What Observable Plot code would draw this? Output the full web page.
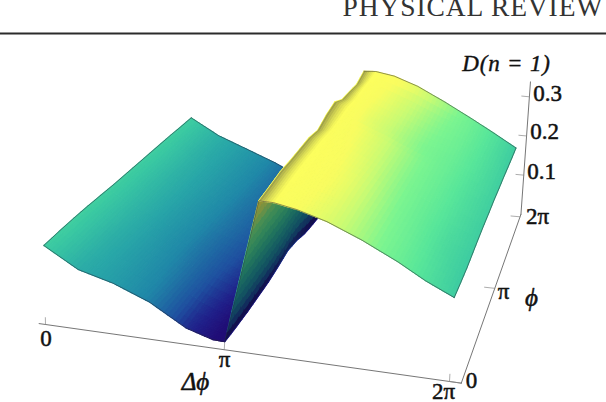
<!DOCTYPE html>
<html><head><meta charset="utf-8">
<style>html,body{margin:0;padding:0;background:#fff;overflow:hidden}svg{display:block}
.wide text{letter-spacing:.8px}.head text{letter-spacing:.9px}</style>
<script src="https://cdn.jsdelivr.net/npm/d3@7"></script>
<script src="https://cdn.jsdelivr.net/npm/@observablehq/plot@0.6"></script>
</head><body><div id="chart"></div>
<script>
// Δφ and φ grid, as fractions of 2π
const dphi = [0,.1,.2,.3,.4,.47,.5,.56,.595,.65,.72,.8,.88,.94,1];
const phi  = [0,1,2,3,4,5,6,7,8,9,10,11,12].map(k=>k/12);
// D(n=1), one row per φ, one column per Δφ
const D0  = [.173,.130,.110,.080,.035,.018,.017,.325,.325,.316,.298,.268,.232,.200,.173];
const D1  = [.175,.132,.108,.079,.037,.019,.016,.328,.327,.318,.300,.266,.230,.199,.171];
const D2  = [.176,.133,.106,.077,.041,.021,.016,.332,.330,.322,.303,.264,.228,.196,.170];
const D3  = [.176,.135,.105,.075,.045,.025,.018,.330,.331,.323,.302,.262,.226,.195,.172];
const D4  = [.175,.136,.104,.074,.048,.028,.020,.330,.330,.322,.298,.260,.226,.197,.174];
const D5  = [.174,.137,.105,.075,.051,.032,.026,.330,.330,.320,.295,.258,.227,.199,.175];
const D6  = [.174,.137,.106,.077,.054,.036,.034,.322,.326,.316,.292,.258,.228,.200,.175];
const D7  = [.174,.137,.107,.078,.056,.034,.030,.335,.328,.314,.290,.258,.229,.201,.176];
const D8  = [.174,.136,.108,.079,.057,.032,.020,.342,.332,.306,.282,.252,.230,.203,.175];
const D9  = [.174,.136,.108,.080,.057,.030,.016,.325,.328,.308,.284,.254,.232,.204,.175];
const D10 = [.174,.135,.108,.080,.056,.028,.014,.322,.330,.312,.288,.258,.234,.205,.174];
const D11 = [.173,.135,.108,.080,.052,.024,.013,.318,.330,.314,.292,.262,.235,.205,.173];
const D12 = [.173,.135,.108,.080,.045,.018,.012,.330,.332,.325,.305,.272,.235,.205,.173];
const surface = [D0,D1,D2,D3,D4,D5,D6,D7,D8,D9,D10,D11,D12];

const colorD = [.012,.03,.05,.085,.12,.165,.21,.25,.285,.315,.34];
const colorR = ["#22066e","#20208a","#1f50a0","#2088a8","#28a5a8","#3ac8a2","#58e69a","#7cf590","#c8fb74","#f8fc60","#ffff5c"];

const zTicks = [.1,.2,.3], zLabels = ["0.1","0.2","0.3"];

// projective camera of the 3D box
function homography(q){
  const [[x0,y0],[x1,y1],[x2,y2],[x3,y3]] = q;
  const dx1=x1-x2,dx2=x3-x2,sx=x0-x1+x2-x3,dy1=y1-y2,dy2=y3-y2,sy=y0-y1+y2-y3;
  const det=dx1*dy2-dx2*dy1,g=(sx*dy2-dx2*sy)/det,h=(dx1*sy-sx*dy1)/det;
  const a=x1-x0+g*x1,b=x3-x0+h*x3,d=y1-y0+g*y1,e=y3-y0+h*y3;
  return (u,v)=>{const w=g*u+h*v+1;return [(a*u+b*v+x0)/w,(d*u+e*v+y0)/w];};
}
const floorH0 = homography([[45,324],[449,381],[510.5,215.5],[190,187]]);
const planeH0 = homography([[43.3,245],[453.7,297],[515.5,147.5],[190.7,117.3]]);
const warp = u => u*.905/(1-.095*u);
const floorH = (u,v)=>floorH0(warp(u),v), planeH = (u,v)=>planeH0(warp(u),v);
const planeD = .173;
const P = (u,v,z)=>{const b=floorH(u,v),t=planeH(u,v),k=z/planeD;return [b[0]+(t[0]-b[0])*k,b[1]+(t[1]-b[1])*k];};

// paint the measured grid: each cell is split for smooth shading only
function sample(i,j,a,b){
  const d=surface[j][i]*(1-a)*(1-b)+surface[j][i+1]*a*(1-b)+surface[j+1][i]*(1-a)*b+surface[j+1][i+1]*a*b;
  const u=dphi[i]+(dphi[i+1]-dphi[i])*a, v=phi[j]+(phi[j+1]-phi[j])*b;
  return {d,p:P(u,v,d)};
}
function quads(iFrom,iTo,n,m){
  const out=[];
  for(let j=0;j<phi.length-1;j++)for(let i=iFrom;i<iTo;i++)for(let s=0;s<m;s++)for(let a=0;a<n;a++){
    const A=sample(i,j,a/n,s/m),B=sample(i,j,(a+1)/n,s/m),C=sample(i,j,(a+1)/n,(s+1)/m),E=sample(i,j,a/n,(s+1)/m);
    out.push({g:{type:"Polygon",coordinates:[[A.p,B.p,C.p,E.p,A.p]]},d:(A.d+B.d+C.d+E.d)/4});
  }
  return out;
}
const line=(pts)=>({type:"LineString",coordinates:pts});
const rowLine=(j,iFrom,iTo)=>line(d3.range(iFrom,iTo+1).map(i=>P(dphi[i],phi[j],surface[j][i])));
const colLine=(i)=>line(phi.map((v,j)=>P(dphi[i],v,surface[j][i])));

const iValley=6,iRidge=7,iLast=dphi.length-1;
const left=quads(0,iValley,10,2), wall=quads(iValley,iRidge,14,2), right=quads(iRidge,iLast,8,2);
const wallShade={type:"Polygon",coordinates:[[...colLine(iValley).coordinates,...colLine(iRidge).coordinates.slice().reverse(),P(dphi[iValley],0,surface[0][iValley])]]};
const rimOpacity=[.45,.34,.25,.17,.1,.04];
const rim=rimOpacity.map((o,k)=>{
  const a=k/rimOpacity.length,b=(k+1)/rimOpacity.length;
  const side=t=>phi.map((_,j)=>j<phi.length-1?sample(iRidge,j,t,0).p:sample(iRidge,j-1,t,1).p);
  const A=side(a),B=side(b);
  return {g:{type:"Polygon",coordinates:[[...A,...B.reverse(),A[0]]]},o};
});

const uEnd=1.023,uStart=-.02,vEnd=1.02;
const axisLines=[
  line([floorH(uStart,0),floorH(uEnd,0)]),
  line([floorH(uEnd,0),floorH(uEnd,vEnd)]),
  line([P(uEnd,vEnd,0),P(uEnd,vEnd,.338)])
];
const tickLines=[
  ...[0,.5,1].map(u=>line([P(u,0,0),P(u,0,.015)])),
  ...[0,.5,1].map(v=>line([floorH(uEnd,v),floorH(1,v)])),
  ...zTicks.map(z=>line([P(uEnd,vEnd,z),P(1.003,vEnd,z)]))
];
const edges=[rowLine(0,0,iLast),colLine(0),rowLine(12,0,iValley)];
const edgesRight=[rowLine(0,iValley,iLast),rowLine(12,iRidge,iLast),colLine(iLast)];

const font="Liberation Serif";
const labels=[
  {t:"0",x:45.5,y:345},{t:"π",x:224,y:366},{t:"2π",x:443,y:398},{t:"0",x:471,y:387},
  {t:"π",x:503,y:298},{t:"2π",x:537,y:223},
  ...zLabels.map((t,i)=>({t,x:[541,544,547][i],y:[178,138,100][i]}))
];
const surfaceStyle={geometry:d=>d.g,fill:d=>d.d,stroke:d=>d.d,strokeWidth:1.1,strokeLinejoin:"round"};
const chart=Plot.plot({
  width:606,height:402,margin:0,
  projection:d3.geoIdentity(),
  color:{type:"linear",domain:colorD,range:colorR,interpolate:"rgb",clamp:true},
  marks:[
    Plot.geo([line([[0,33],[606,33]])],{stroke:"#2b2b2b",strokeWidth:2.2}),
    Plot.text(["PHYSICAL REVIEW"],{x:342,y:15,text:d=>d,textAnchor:"start",lineAnchor:"bottom",fontFamily:font,fontSize:27.5,fill:"#333",className:"head"}),
    Plot.geo(axisLines,{stroke:"#666",strokeWidth:.9}),
    Plot.geo(tickLines,{stroke:"#888",strokeWidth:.7}),
    Plot.geo(left,surfaceStyle),
    Plot.geo(edges,{stroke:"#223",strokeWidth:.7,strokeOpacity:.7}),
    Plot.geo(wall,surfaceStyle),
    Plot.geo([wallShade],{fill:"black",fillOpacity:.42,stroke:"none"}),
    Plot.geo(right,surfaceStyle),
    Plot.geo(rim,{geometry:d=>d.g,fill:"#333",fillOpacity:d=>d.o,stroke:"none"}),
    Plot.geo(edgesRight,{stroke:"#223",strokeWidth:.7,strokeOpacity:.7}),
    Plot.text(labels,{x:"x",y:"y",text:"t",lineAnchor:"bottom",fontFamily:font,fontSize:23,fill:"#111",stroke:"#111",strokeWidth:.5}),
    Plot.text([{t:"Δϕ",x:195,y:389},{t:"ϕ",x:531,y:305}],{x:"x",y:"y",text:"t",lineAnchor:"bottom",fontFamily:font,fontStyle:"italic",fontSize:25,fill:"#111",stroke:"#111",strokeWidth:.5}),
    Plot.text([{t:"D(n = 1)",x:506,y:70}],{x:"x",y:"y",text:"t",lineAnchor:"bottom",fontFamily:font,fontStyle:"italic",fontSize:23,fill:"#111",stroke:"#111",strokeWidth:.4,className:"wide"})
  ]
});
document.getElementById("chart").append(chart);
</script></body></html>
